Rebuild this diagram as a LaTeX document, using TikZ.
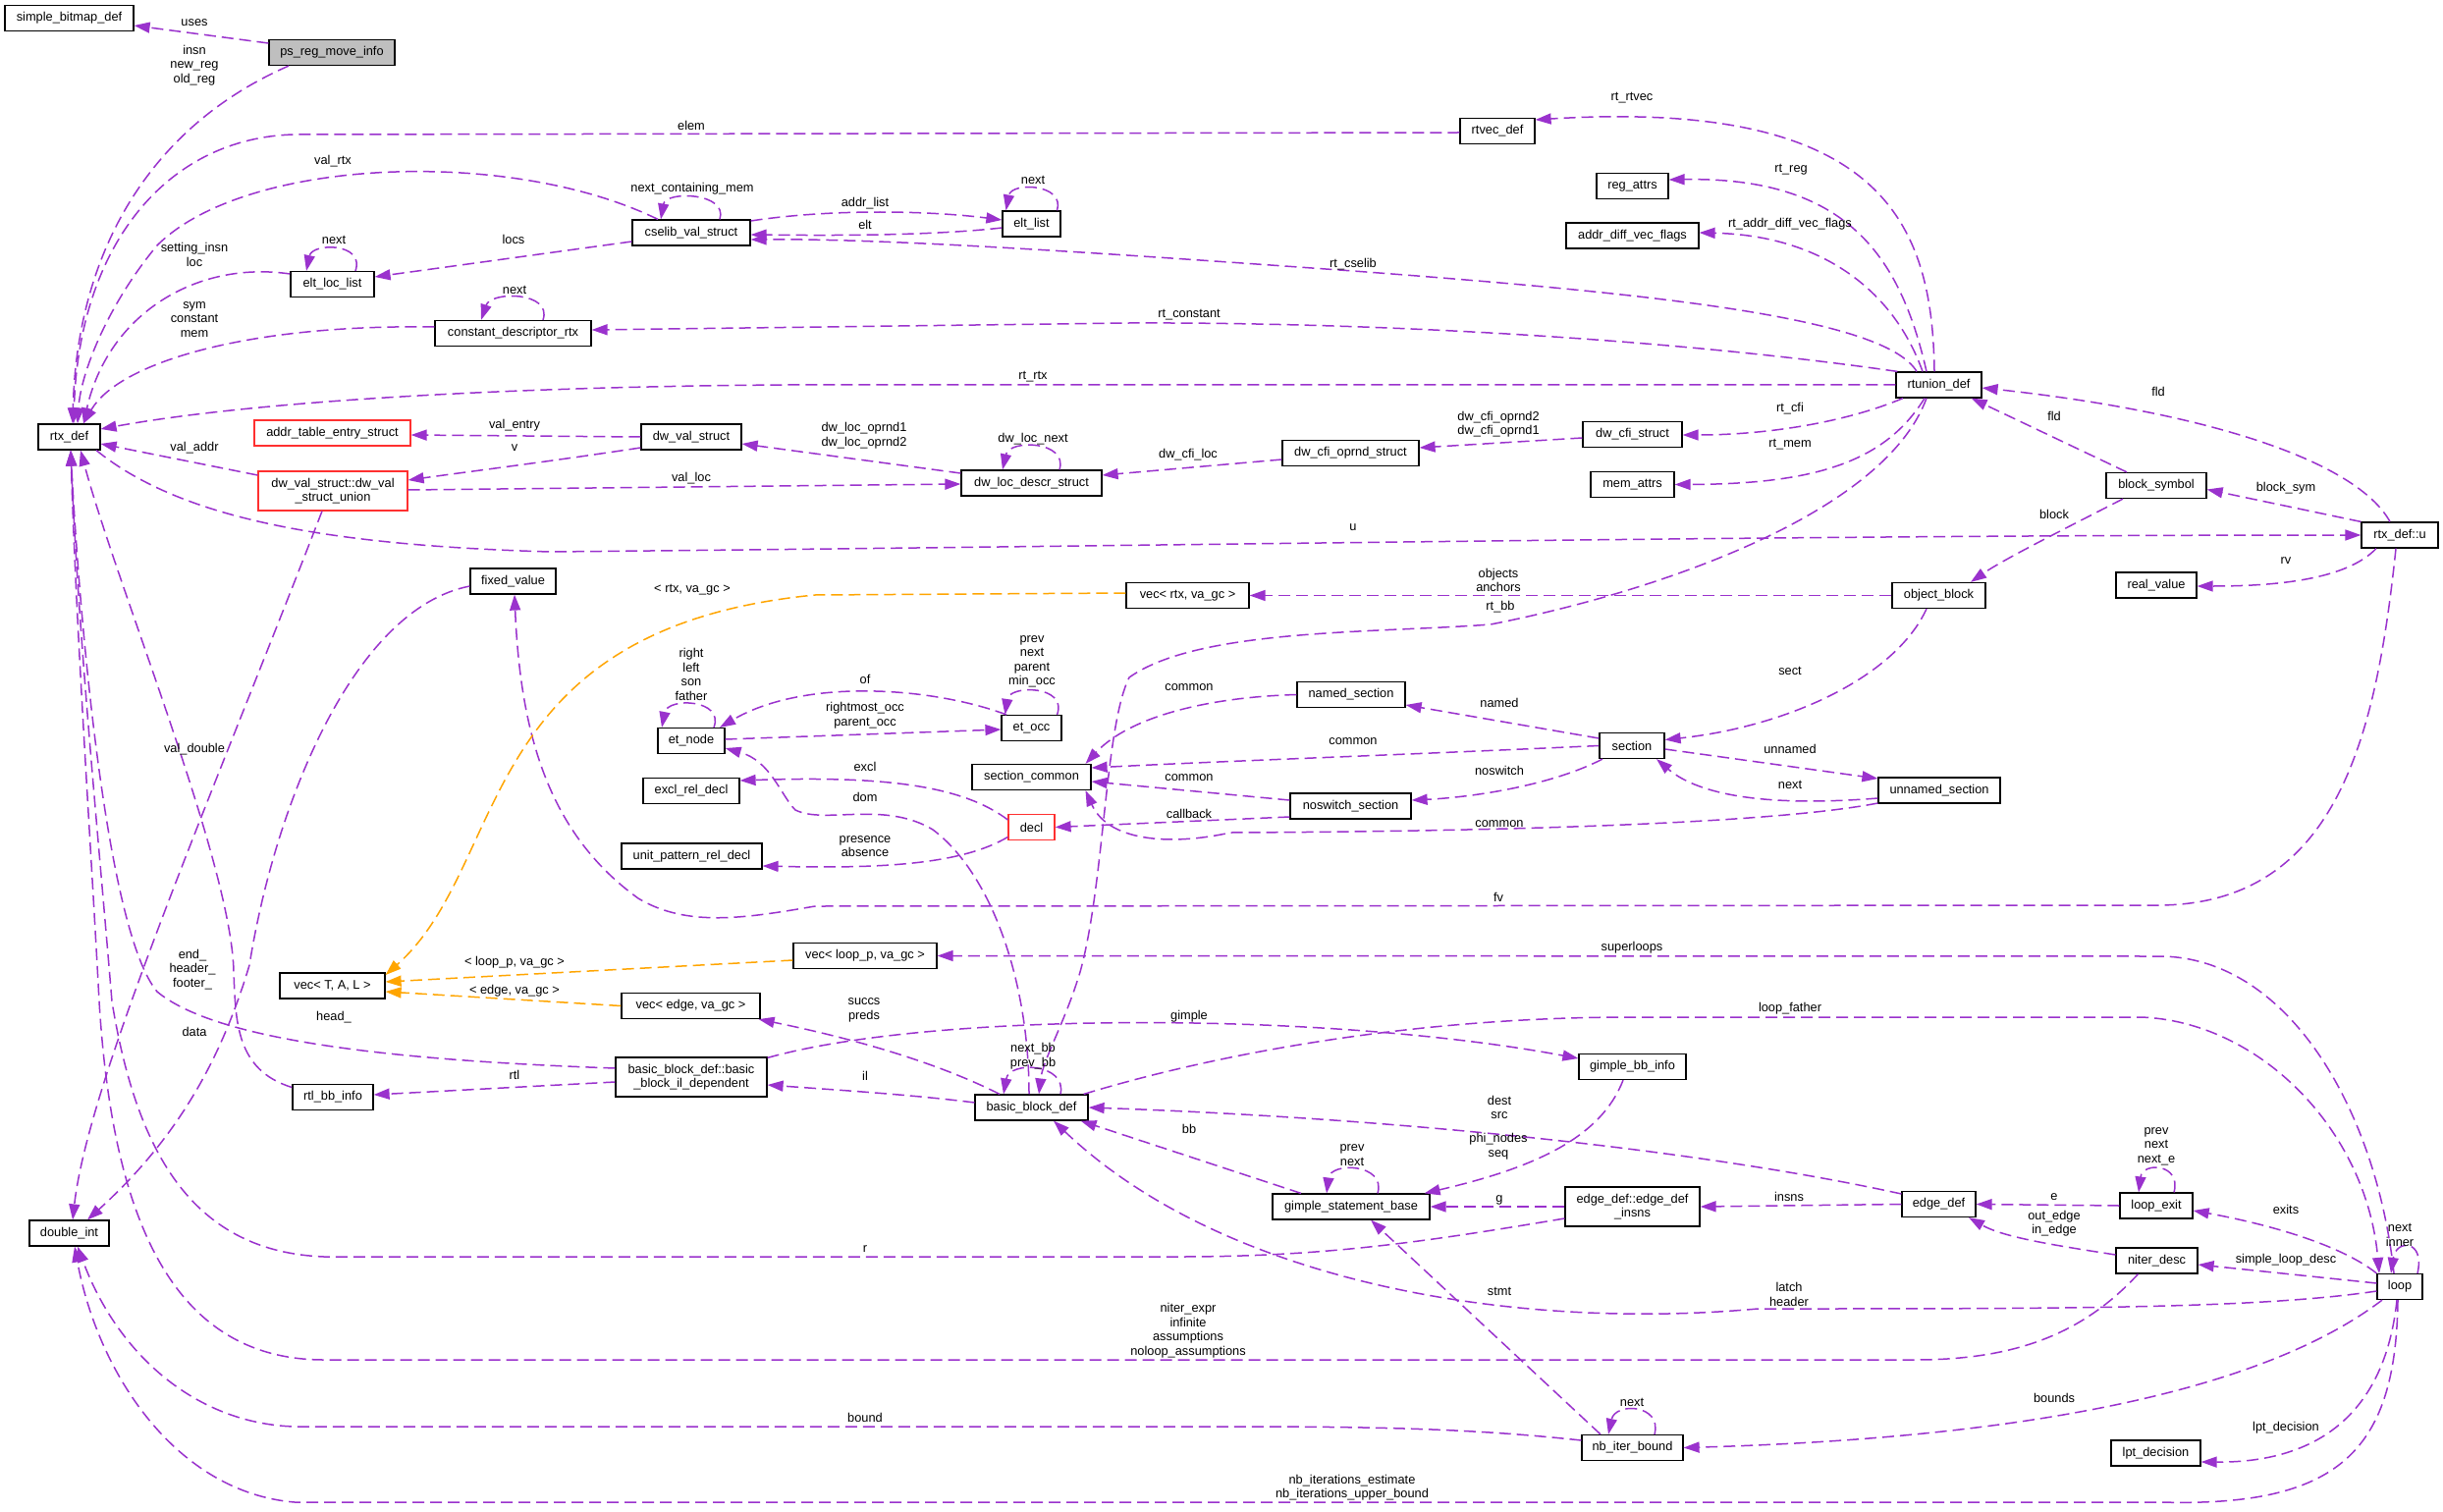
\documentclass[tikz,border=0pt]{standalone}
\usepackage{fontspec}
\setmainfont{Liberation Sans}
\usetikzlibrary{arrows.meta,calc}
\definecolor{pur}{HTML}{9A32CD}
\definecolor{org}{HTML}{FFA500}
\definecolor{redb}{HTML}{FF3030}
\definecolor{grayfill}{HTML}{BFBFBF}
\newcommand\lblfont{\fontsize{6.4pt}{7.25pt}\selectfont}
\begin{document}
\begin{tikzpicture}[x=0.5pt,y=-0.5pt,
  box/.style={draw=black,line width=0.6pt,fill=white,inner sep=0pt,minimum height=13pt,font=\lblfont,align=center},
  box2/.style={box,minimum height=20pt},
  redbox/.style={draw=redb},
  lbl/.style={font=\lblfont,align=center,inner sep=0pt},
  e/.style={draw=pur,line width=0.75pt,dash pattern=on 6pt off 3pt,-{Triangle[length=8pt,width=5.5pt]}},
  eo/.style={e,draw=org}]
\fill[white] (0,0) rectangle (2488,1540);
\useasboundingbox (0,0) rectangle (2488,1540);
% ---------------- nodes ----------------
\node[box,minimum width=65.5pt] (sbd) at (70.5,18.5) {simple\_bitmap\_def};
\node[box,minimum width=64pt,fill=grayfill] (ps) at (338,53.5) {ps\_reg\_move\_info};
\node[box,minimum width=31.5pt] (rtx) at (70.5,445) {rtx\_def};
\node[box,minimum width=60pt] (cselib) at (704,237) {cselib\_val\_struct};
\node[box,minimum width=42.5pt] (ell) at (338.5,289.5) {elt\_loc\_list};
\node[box,minimum width=79.5pt] (cdr) at (522.5,339.5) {constant\_descriptor\_rtx};
\node[box,redbox,minimum width=79.5pt] (ate) at (338.5,441) {addr\_table\_entry\_struct};
\node[box,minimum width=51pt] (dvs) at (704,445) {dw\_val\_struct};
\node[box2,redbox,minimum width=76pt] (dvu) at (339,500) {dw\_val\_struct::dw\_val\\\_struct\_union};
\node[box,minimum width=38pt] (rtvec) at (1525,133.5) {rtvec\_def};
\node[box,minimum width=29.5pt] (elt) at (1050.5,228) {elt\_list};
\node[box,minimum width=36.5pt] (rega) at (1662.5,189.5) {reg\_attrs};
\node[box,minimum width=67.5pt] (advf) at (1662.5,240) {addr\_diff\_vec\_flags};
\node[box,minimum width=71.5pt] (dld) at (1050.5,492) {dw\_loc\_descr\_struct};
\node[box,minimum width=69.5pt] (dcos) at (1375.5,461.5) {dw\_cfi\_oprnd\_struct};
\node[box,minimum width=50.5pt] (dcs) at (1662.5,442.5) {dw\_cfi\_struct};
\node[box,minimum width=42.5pt] (mema) at (1662.5,493.5) {mem\_attrs};
\node[box,minimum width=43.5pt] (rtu) at (1974.5,392) {rtunion\_def};
\node[box,minimum width=51pt] (bsym) at (2196,494.5) {block\_symbol};
\node[box,minimum width=43.5pt] (fixv) at (522.5,592) {fixed\_value};
\node[box,minimum width=34pt] (etn) at (704,754.5) {et\_node};
\node[box,minimum width=49pt] (erd) at (704,805.5) {excl\_rel\_decl};
\node[box,minimum width=71.5pt] (uprd) at (704.5,872) {unit\_pattern\_rel\_decl};
\node[box,minimum width=53.5pt] (vtal) at (338.5,1004) {vec< T, A, L >};
\node[box,minimum width=62.5pt] (vrtx) at (1209.5,606.5) {vec< rtx, va\_gc >};
\node[box,minimum width=30.5pt] (eto) at (1050.5,741.5) {et\_occ};
\node[box,minimum width=60.5pt] (secc) at (1050.5,791.5) {section\_common};
\node[box,minimum width=55pt] (nsec) at (1376,707.5) {named\_section};
\node[box,minimum width=61.5pt] (nssec) at (1375.5,821) {noswitch\_section};
\node[box,redbox,minimum width=23.5pt] (decl) at (1050.5,842.5) {decl};
\node[box,minimum width=73pt] (vloop) at (881,973.5) {vec< loop\_p, va\_gc >};
\node[box,minimum width=33pt] (sec) at (1662,759.5) {section};
\node[box,minimum width=39pt] (rtxu) at (2444,545) {rtx\_def::u};
\node[box,minimum width=41pt] (realv) at (2196,596) {real\_value};
\node[box,minimum width=47.5pt] (objb) at (1974.5,606.5) {object\_block};
\node[box,minimum width=62pt] (unsec) at (1975,805) {unnamed\_section};
\node[box,minimum width=70.5pt] (vedge) at (703.5,1024.5) {vec< edge, va\_gc >};
\node[box2,minimum width=77pt] (bbil) at (704,1097) {basic\_block\_def::basic\\\_block\_il\_dependent};
\node[box,minimum width=41pt] (rtlbb) at (339,1117.5) {rtl\_bb\_info};
\node[box,minimum width=40.5pt] (dint) at (70.5,1256) {double\_int};
\node[box,minimum width=57.5pt] (bbd) at (1050.5,1128) {basic\_block\_def};
\node[box,minimum width=54.5pt] (gbb) at (1662.5,1086.5) {gimple\_bb\_info};
\node[box,minimum width=80pt] (gsb) at (1376,1229) {gimple\_statement\_base};
\node[box2,minimum width=68.5pt] (edi) at (1662.5,1229) {edge\_def::edge\_def\\\_insns};
\node[box,minimum width=51.5pt] (nbib) at (1662.5,1474.5) {nb\_iter\_bound};
\node[box,minimum width=37.5pt] (edef) at (1974.5,1226.5) {edge\_def};
\node[box,minimum width=37pt] (lexit) at (2196,1228) {loop\_exit};
\node[box,minimum width=41.5pt] (nitd) at (2196.5,1284) {niter\_desc};
\node[box,minimum width=23pt] (loop) at (2444,1310.5) {loop};
\node[box,minimum width=45.5pt] (lptd) at (2195.5,1480) {lpt\_decision};
% ---------------- connectors ----------------
\draw[e] ($(ps.west)+(0,-9.5)$) -- ($(sbd.east)+(0,7.5)$);
\draw[e] ($(ps.south)+(-44,0)$) .. controls (150,130) and (78,260) .. ($(rtx.north)+(3.5,0)$);
\draw[e] ($(rtvec.west)+(0,1.5)$) -- (300,137) .. controls (170,140) and (80,250) .. ($(rtx.north)+(4.5,0)$);
\draw[e] ($(cselib.north)+(-34,0)$) .. controls (520,150) and (250,160) .. (160,250) .. controls (110,310) and (82,380) .. ($(rtx.north)+(8.5,0)$);
\draw[e] ($(cselib.north)+(29,0)$) .. controls (742,196) and (678,194) .. ($(cselib.north)+(-31,0)$);
\draw[e] ($(cselib.west)+(0,9)$) -- ($(ell.east)+(0,-7.5)$);
\draw[e] ($(ell.west)+(0,-10.5)$) .. controls (200,265) and (110,320) .. ($(rtx.north)+(14.5,0)$);
\draw[e] ($(ell.north)+(23.5,0)$) .. controls (372,247) and (318,247) .. ($(ell.north)+(-26.5,0)$);
\draw[e] ($(cdr.west)+(0,-6.5)$) .. controls (250,330) and (120,370) .. ($(rtx.north)+(14.5,0)$);
\draw[e] ($(cdr.north)+(30.5,0)$) .. controls (563,297) and (500,296) .. ($(cdr.north)+(-32.5,0)$);
\draw[e] (rtu.west) -- (800,392) .. controls (500,394) and (250,410) .. ($(rtx.east)+(0,-8)$);
\draw[e] ($(rtu.north)+(-4.5,0)$) .. controls (1968,230) and (1920,100) .. ($(rtvec.east)+(0,-11.5)$);
\draw[e] ($(rtu.north)+(-12.5,0)$) .. controls (1935,260) and (1880,180) .. ($(rega.east)+(0,-6.5)$);
\draw[e] ($(rtu.north)+(-16.5,0)$) .. controls (1930,300) and (1860,240) .. ($(advf.east)+(0,-3)$);
\draw[e] ($(rtu.north)+(-22.5,0)$) .. controls (1920,325) and (1700,300) .. (1378,276) .. controls (1100,256) and (900,243) .. ($(cselib.east)+(0,7)$);
\draw[e] ($(rtu.north west)+(2,0)$) .. controls (1700,345) and (1400,328) .. (1150,329) -- ($(cdr.east)+(0,-3.5)$);
\draw[e] ($(rtu.south)+(-36.5,0)$) .. controls (1880,430) and (1800,443) .. ($(dcs.east)+(0,0.5)$);
\draw[e] ($(rtu.south)+(-14.5,0)$) .. controls (1920,470) and (1850,493) .. (mema.east);
\draw[e] ($(rtu.south)+(-12.5,0)$) .. controls (1920,520) and (1700,600) .. (1518,636) .. controls (1400,645) and (1220,640) .. (1150,690) .. controls (1125,740) and (1125,900) .. (1100,990) .. controls (1085,1040) and (1062,1080) .. ($(bbd.north)+(7.5,0)$);
\draw[e] ($(cselib.east)+(0,-12)$) .. controls (850,212) and (950,215) .. ($(elt.west)+(0,-4)$);
\draw[e] ($(elt.west)+(0,4)$) .. controls (950,240) and (850,240) .. ($(cselib.east)+(0,2)$);
\draw[e] ($(elt.north)+(26,0)$) .. controls (1085,187) and (1030,185) .. ($(elt.north)+(-26,0)$);
\draw[e] (dvs.west) -- ($(ate.east)+(0,2)$);
\draw[e] ($(dvs.west)+(0,11)$) .. controls (560,470) and (480,480) .. ($(dvu.east)+(0,-11)$);
\draw[e] ($(dvu.west)+(0,-16)$) -- ($(rtx.east)+(0,7)$);
\draw[e] ($(dvu.east)+(0,-1)$) -- ($(dld.west)+(0,1)$);
\draw[e] ($(dld.west)+(0,-10)$) -- ($(dvs.east)+(0,7)$);
\draw[e] ($(dld.north)+(28.5,0)$) .. controls (1088,449) and (1028,447) .. ($(dld.north)+(-29.5,0)$);
\draw[e] ($(dcos.west)+(0,6.5)$) -- ($(dld.east)+(0,-8)$);
\draw[e] ($(dcs.west)+(0,3.5)$) -- ($(dcos.east)+(0,-5.5)$);
\draw[e] ($(rtx.south)+(27.5,0)$) .. controls (180,525) and (320,555) .. (560,562) .. controls (1200,556) and (1800,545) .. (rtxu.west);
\draw[e] ($(rtxu.north)+(-10,0)$) .. controls (2400,470) and (2250,420) .. ($(rtu.east)+(0,3)$);
\draw[e] ($(bsym.north)+(-30,0)$) -- ($(rtu.south east)+(-11,0)$);
\draw[e] (rtxu.north west) -- ($(bsym.east)+(0,4)$);
\draw[e] ($(rtxu.south)+(-24,0)$) .. controls (2390,590) and (2320,597) .. ($(realv.east)+(0,1)$);
\draw[e] ($(rtxu.south)+(-4,0)$) .. controls (2420,750) and (2380,920) .. (2200,922) -- (830,923) .. controls (760,935) and (700,945) .. (650,915) .. controls (560,850) and (530,750) .. ($(fixv.south)+(1.5,0)$);
\draw[e] ($(bsym.south)+(-34,0)$) .. controls (2100,540) and (2040,570) .. ($(objb.north)+(32.5,0)$);
\draw[e] (objb.west) -- (vrtx.east);
\draw[e] ($(objb.south)+(-12.5,0)$) .. controls (1930,690) and (1820,740) .. ($(sec.east)+(0,-6)$);
\draw[eo] ($(vrtx.west)+(0,-2.5)$) -- (830,606) .. controls (480,640) and (520,880) .. ($(vtal.east)+(0,-11)$);
\draw[eo] ($(vloop.west)+(0,4.5)$) -- ($(vtal.east)+(0,-4)$);
\draw[eo] (vedge.west) -- ($(vtal.east)+(0,6)$);
\draw[e] ($(sec.west)+(0,-7.5)$) -- ($(nsec.east)+(0,10.5)$);
\draw[e] (sec.west) .. controls (1400,770) and (1250,775) .. ($(secc.east)+(0,-9.5)$);
\draw[e] ($(sec.south)+(-30,0)$) .. controls (1580,800) and (1500,812) .. ($(nssec.east)+(0,-6)$);
\draw[e] ($(sec.east)+(0,3.5)$) -- ($(unsec.west)+(0,-12)$);
\draw[e] ($(unsec.west)+(0,8)$) .. controls (1800,822) and (1730,810) .. ($(sec.south)+(25,0)$);
\draw[e] ($(unsec.west)+(0,13)$) .. controls (1800,840) and (1500,847) .. (1253,848) .. controls (1200,860) and (1130,860) .. ($(secc.south)+(55,0)$);
\draw[e] (nsec.west) .. controls (1230,710) and (1150,730) .. ($(secc.north)+(55,0)$);
\draw[e] ($(nssec.west)+(0,-6)$) -- ($(secc.east)+(0,4.5)$);
\draw[e] ($(nssec.west)+(0,11)$) -- (decl.east);
\draw[e] ($(decl.west)+(0,-7.5)$) .. controls (980,800) and (900,790) .. ($(erd.east)+(0,-10.5)$);
\draw[e] ($(decl.west)+(0,10)$) .. controls (980,880) and (900,885) .. ($(uprd.east)+(0,10)$);
\draw[e] ($(eto.north)+(-25.5,0)$) .. controls (950,700) and (820,690) .. ($(etn.north)+(29,0)$);
\draw[e] ($(etn.east)+(0,-1.5)$) -- ($(eto.west)+(0,1.5)$);
\draw[e] ($(etn.north)+(23,0)$) .. controls (738,712) and (680,710) .. ($(etn.north)+(-30,0)$);
\draw[e] ($(eto.north)+(26,0)$) .. controls (1088,698) and (1028,697) .. ($(eto.north)+(-27,0)$);
\draw[e] ($(bbd.north)+(-2.5,0)$) .. controls (1048,1000) and (1010,890) .. (950,845) .. controls (900,815) and (840,840) .. (810,825) .. controls (795,810) and (785,775) .. ($(etn.east)+(0,7.5)$);
\draw[e] ($(bbd.north)+(-32.5,0)$) .. controls (960,1085) and (880,1060) .. ($(vedge.south east)+(-2,0)$);
\draw[e] ($(bbd.north)+(29.5,0)$) .. controls (1087,1083) and (1028,1080) .. ($(bbd.north)+(-28.5,0)$);
\draw[e] ($(bbd.west)+(0,-5)$) .. controls (930,1115) and (850,1110) .. ($(bbil.east)+(0,8)$);
\draw[e] ($(bbil.north east)+(0,1)$) .. controls (950,1030) and (1350,1030) .. ($(gbb.west)+(0,-8.5)$);
\draw[e] ($(bbil.west)+(0,5)$) -- ($(rtlbb.east)+(0,-2.5)$);
\draw[e] ($(bbil.west)+(0,-9)$) .. controls (400,1080) and (220,1060) .. (160,1010) .. controls (110,950) and (82,650) .. ($(rtx.south)+(1.5,0)$);
\draw[e] ($(rtlbb.west)+(0,-10)$) .. controls (240,1090) and (240,1040) .. (238,990) .. controls (236,880) and (120,600) .. ($(rtx.south)+(11.5,0)$);
\draw[e] ($(fixv.west)+(0,5)$) .. controls (360,620) and (280,820) .. (254,983) .. controls (225,1080) and (180,1160) .. ($(dint.north)+(18.5,0)$);
\draw[e] ($(dvu.south)+(-11,0)$) .. controls (220,800) and (90,1100) .. ($(dint.north)+(3.5,0)$);
\draw[e] ($(edef.west)+(0,-10.5)$) .. controls (1750,1175) and (1450,1140) .. (bbd.east);
\draw[e] ($(gsb.north)+(-51,0)$) -- ($(bbd.south east)+(-8,0)$);
\draw[e] ($(loop.west)+(0,4.5)$) .. controls (2300,1333) and (2100,1333) .. (1790,1333) .. controls (1550,1355) and (1250,1310) .. ($(bbd.south)+(22.5,0)$);
\draw[e] ($(gbb.south)+(-9.5,0)$) .. controls (1630,1160) and (1560,1190) .. ($(gsb.north east)+(-6,0)$);
\draw[e] ($(gsb.north)+(27,0)$) .. controls (1412,1185) and (1355,1183) .. ($(gsb.north)+(-25,0)$);
\draw[e] (edi.west) -- (gsb.east);
\draw[e] (edef.west) -- (edi.east);
\draw[e] ($(edi.west)+(0,12)$) .. controls (1450,1265) and (1350,1280) .. (1200,1280) -- (330,1280) .. controls (200,1275) and (140,1180) .. (114,1020) .. controls (100,850) and (80,650) .. ($(rtx.south)+(1.5,0)$);
\draw[e] ($(nbib.north)+(-32.5,0)$) -- ($(gsb.south)+(20,0)$);
\draw[e] ($(nbib.north)+(22.5,0)$) .. controls (1693,1430) and (1645,1428) .. ($(nbib.north)+(-24.5,0)$);
\draw[e] ($(nbib.west)+(0,-7.5)$) .. controls (1500,1455) and (1400,1453) .. (1253,1453) -- (300,1453) .. controls (200,1450) and (120,1380) .. ($(dint.south)+(8.5,0)$);
\draw[e] ($(loop.south)+(-2,0)$) .. controls (2440,1480) and (2380,1535) .. (2200,1530) -- (300,1530) .. controls (180,1520) and (100,1400) .. ($(dint.south)+(5.5,0)$);
\draw[e] (lexit.west) -- (edef.east);
\draw[e] ($(lexit.north)+(18,0)$) .. controls (2222,1185) and (2182,1183) .. ($(lexit.north)+(-18,0)$);
\draw[e] ($(nitd.west)+(0,-6)$) .. controls (2090,1268) and (2040,1260) .. ($(edef.south)+(30.5,0)$);
\draw[e] ($(nitd.south)+(-19,0)$) .. controls (2120,1360) and (2050,1385) .. (1950,1385) -- (330,1385) .. controls (180,1385) and (115,1250) .. (101,1020) .. controls (92,850) and (78,650) .. ($(rtx.south)+(1.5,0)$);
\draw[e] (loop.north west) .. controls (2380,1265) and (2300,1245) .. ($(lexit.east)+(0,5)$);
\draw[e] ($(loop.west)+(0,-3.5)$) -- ($(nitd.east)+(0,4)$);
\draw[e] ($(loop.north)+(18,0)$) .. controls (2470,1262) and (2440,1262) .. ($(loop.north)+(-9,0)$);
\draw[e] ($(bbd.north east)+(-5,0)$) .. controls (1250,1070) and (1450,1036) .. (1660,1036) -- (2180,1036) .. controls (2300,1040) and (2410,1150) .. ($(loop.north)+(-21,0)$);
\draw[e] ($(loop.north)+(-6,0)$) .. controls (2420,1130) and (2330,975) .. (2200,974) -- (vloop.east);
\draw[e] ($(loop.south)+(-18,0)$) .. controls (2300,1420) and (2050,1465) .. (nbib.east);
\draw[e] ($(loop.south)+(-3,0)$) .. controls (2430,1430) and (2370,1490) .. ($(lptd.east)+(0,9)$);
% ---------------- labels ----------------
\node[lbl] (l1) at (198,23) {uses};
\node[lbl] (l2) at (198,66.5) {insn\\new\_reg\\old\_reg};
\node[lbl] (l3) at (704,128) {elem};
\node[lbl] (l4) at (339,164) {val\_rtx};
\node[lbl] (l5) at (705,192) {next\_containing\_mem};
\node[lbl] (l6) at (198,259.5) {setting\_insn\\loc};
\node[lbl] (l7) at (340,244) {next};
\node[lbl] (l8) at (523,244) {locs};
\node[lbl] (l9) at (198,325.5) {sym\\constant\\mem};
\node[lbl] (l10) at (524,295) {next};
\node[lbl] (l11) at (524,433) {val\_entry};
\node[lbl] (l12) at (524,456) {v};
\node[lbl] (l13) at (198,456) {val\_addr};
\node[lbl] (l14) at (704,487) {val\_loc};
\node[lbl] (l15) at (1662,100) {rt\_rtvec};
\node[lbl] (l16) at (1052,183) {next};
\node[lbl] (l17) at (881,207) {addr\_list};
\node[lbl] (l18) at (881,229) {elt};
\node[lbl] (l19) at (1378,269) {rt\_cselib};
\node[lbl] (l20) at (1211,321) {rt\_constant};
\node[lbl] (l21) at (1052,384) {rt\_rtx};
\node[lbl] (l22) at (880,443.5) {dw\_loc\_oprnd1\\dw\_loc\_oprnd2};
\node[lbl] (l23) at (1052,447) {dw\_loc\_next};
\node[lbl] (l24) at (1210,463) {dw\_cfi\_loc};
\node[lbl] (l25) at (1526,432) {dw\_cfi\_oprnd2\\dw\_cfi\_oprnd1};
\node[lbl] (l26) at (1824,173) {rt\_reg};
\node[lbl] (l27) at (1823,228) {rt\_addr\_diff\_vec\_flags};
\node[lbl] (l28) at (2198,399) {fld};
\node[lbl] (l29) at (2092,424) {fld};
\node[lbl] (l30) at (1823,416) {rt\_cfi};
\node[lbl] (l31) at (1823,453) {rt\_mem};
\node[lbl] (l32) at (2328,497) {block\_sym};
\node[lbl] (l33) at (705,601) {< rtx, va\_gc >};
\node[lbl] (l34) at (704,687) {right\\left\\son\\father};
\node[lbl] (l35) at (198,763) {val\_double};
\node[lbl] (l36) at (196,987.5) {end\_\\header\_\\footer\_};
\node[lbl] (l37) at (524,980) {< loop\_p, va\_gc >};
\node[lbl] (l38) at (524,1009) {< edge, va\_gc >};
\node[lbl] (l39) at (1378,537) {u};
\node[lbl] (l40) at (1526,591) {objects\\anchors};
\node[lbl] (l41) at (1528,618) {rt\_bb};
\node[lbl] (l42) at (1051,674) {prev\\next\\parent\\min\_occ};
\node[lbl] (l43) at (881,692) {of};
\node[lbl] (l44) at (881,728.5) {rightmost\_occ\\parent\_occ};
\node[lbl] (l45) at (1211,700) {common};
\node[lbl] (l46) at (1527,716) {named};
\node[lbl] (l47) at (1378,755) {common};
\node[lbl] (l48) at (1527,785) {noswitch};
\node[lbl] (l49) at (881,781) {excl};
\node[lbl] (l50) at (1211,792) {common};
\node[lbl] (l51) at (881,812) {dom};
\node[lbl] (l52) at (1211,829) {callback};
\node[lbl] (l53) at (1527,839) {common};
\node[lbl] (l54) at (881,862) {presence\\absence};
\node[lbl] (l55) at (1526,914) {fv};
\node[lbl] (l56) at (1662,965) {superloops};
\node[lbl] (l57) at (2092,524) {block};
\node[lbl] (l58) at (2328,571) {rv};
\node[lbl] (l59) at (1823,683) {sect};
\node[lbl] (l60) at (1823,763) {unnamed};
\node[lbl] (l61) at (1823,799) {next};
\node[lbl] (l62) at (340,1036) {head\_};
\node[lbl] (l63) at (198,1051) {data};
\node[lbl] (l64) at (524,1095) {rtl};
\node[lbl] (l65) at (880,1029) {succs\\preds};
\node[lbl] (l66) at (1211,1035) {gimple};
\node[lbl] (l67) at (1052,1075.5) {next\_bb\\prev\_bb};
\node[lbl] (l68) at (881,1096) {il};
\node[lbl] (l69) at (1211,1150) {bb};
\node[lbl] (l70) at (1527,1128) {dest\\src};
\node[lbl] (l71) at (1526,1167.5) {phi\_nodes\\seq};
\node[lbl] (l72) at (1377,1176.5) {prev\\next};
\node[lbl] (l73) at (1527,1222) {g};
\node[lbl] (l74) at (881,1272) {r};
\node[lbl] (l75) at (1527,1315) {stmt};
\node[lbl] (l76) at (1210,1355) {niter\_expr\\infinite\\assumptions\\noloop\_assumptions};
\node[lbl] (l77) at (881,1444) {bound};
\node[lbl] (l78) at (1377,1515) {nb\_iterations\_estimate\\nb\_iterations\_upper\_bound};
\node[lbl] (l79) at (1662,1428) {next};
\node[lbl] (l80) at (1823,1027) {loop\_father};
\node[lbl] (l81) at (2196,1167.7) {prev\\next\\next\_e};
\node[lbl] (l82) at (1822,1219) {insns};
\node[lbl] (l83) at (2092,1219) {e};
\node[lbl] (l84) at (2092,1246) {out\_edge\\in\_edge};
\node[lbl] (l85) at (2328,1232) {exits};
\node[lbl] (l86) at (2444,1258) {next\\inner};
\node[lbl] (l87) at (2328,1283) {simple\_loop\_desc};
\node[lbl] (l88) at (1822,1318.5) {latch\\header};
\node[lbl] (l89) at (2092,1424) {bounds};
\node[lbl] (l90) at (2328,1454) {lpt\_decision};
\end{tikzpicture}
\end{document}
